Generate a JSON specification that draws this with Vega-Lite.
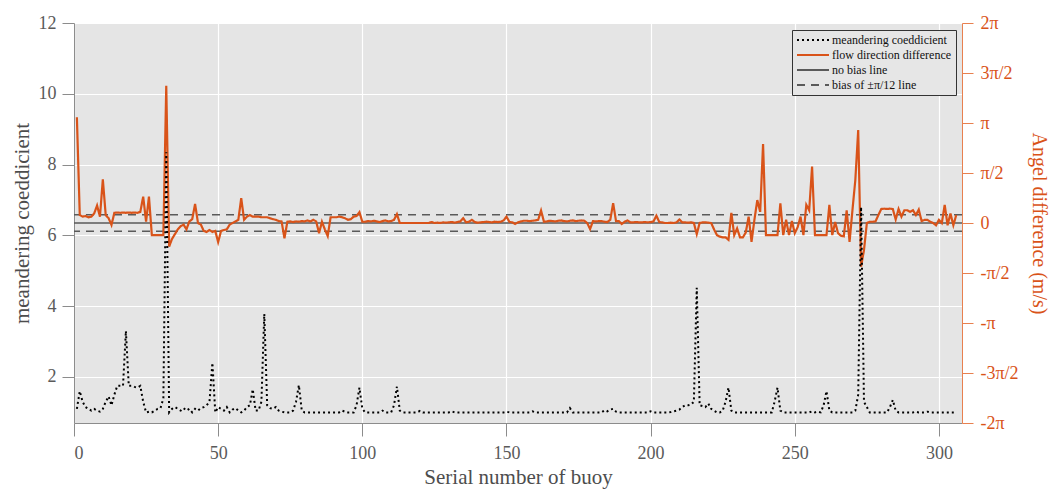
{
  "$schema": "https://vega.github.io/schema/vega-lite/v6.json",
  "width": 888,
  "height": 400,
  "autosize": {"type": "none"},
  "padding": {"left": 74, "top": 23, "right": 90, "bottom": 69},
  "background": "white",
  "config": {
    "view": {"fill": "#e5e5e5", "stroke": null},
    "font": "Liberation Serif, Times New Roman, serif",
    "axis": {"labelFont": "Liberation Serif, Times New Roman, serif", "titleFont": "Liberation Serif, Times New Roman, serif", "titleFontWeight": "normal"},
    "legend": {"orient": "none", "legendX": 718, "legendY": 7, "titleFontSize": 0,
      "fillColor": "#e6e6e6", "strokeColor": "#333333", "padding": 4,
      "labelFont": "Liberation Serif, Times New Roman, serif", "labelFontSize": 12, "labelColor": "#111111",
      "symbolType": "M-4,0H4", "symbolSize": 64, "symbolStrokeWidth": 2,
      "symbolOffset": 11, "labelOffset": 13, "rowPadding": 3}
  },
  "datasets": {
    "refs": [
      {"series": "no bias line", "angle": 0},
      {"series": "bias of ±π/12 line", "angle": 0.2618},
      {"series": "bias of ±π/12 line", "angle": -0.2618}
    ],
    "buoy": [
      {"i":1,"m":1.1,"a":3.32},{"i":2,"m":1.6,"a":0.25},{"i":3,"m":1.3,"a":0.2},{"i":4,"m":1.15,"a":0.22},{"i":5,"m":1.1,"a":0.18},
      {"i":6,"m":1.05,"a":0.2},{"i":7,"m":1.1,"a":0.3},{"i":8,"m":1.05,"a":0.55},{"i":9,"m":1.02,"a":0.2},{"i":10,"m":1.1,"a":1.37},
      {"i":11,"m":1.3,"a":0.25},{"i":12,"m":1.45,"a":0.15},{"i":13,"m":1.2,"a":-0.06},{"i":14,"m":1.5,"a":0.32},{"i":15,"m":1.75,"a":0.33},
      {"i":16,"m":1.75,"a":0.32},{"i":17,"m":1.75,"a":0.33},{"i":18,"m":3.3,"a":0.32},{"i":19,"m":1.75,"a":0.33},{"i":20,"m":1.75,"a":0.32},
      {"i":21,"m":1.72,"a":0.33},{"i":22,"m":1.7,"a":0.32},{"i":23,"m":1.75,"a":0.35},{"i":24,"m":1.3,"a":0.83},{"i":25,"m":1.0,"a":0.04},
      {"i":26,"m":1.02,"a":0.83},{"i":27,"m":1.0,"a":-0.38},{"i":28,"m":1.05,"a":-0.38},{"i":29,"m":1.1,"a":-0.38},{"i":30,"m":1.12,"a":-0.38},
      {"i":31,"m":1.4,"a":-0.38},{"i":32,"m":8.35,"a":4.31},{"i":33,"m":1.0,"a":-0.74},{"i":34,"m":1.1,"a":-0.5},{"i":35,"m":1.15,"a":-0.35},
      {"i":36,"m":1.1,"a":-0.2},{"i":37,"m":1.05,"a":-0.1},{"i":38,"m":1.12,"a":-0.05},{"i":39,"m":1.05,"a":-0.2},{"i":40,"m":1.1,"a":0.05},
      {"i":41,"m":1.0,"a":0.12},{"i":42,"m":1.1,"a":0.6},{"i":43,"m":1.05,"a":0.0},{"i":44,"m":1.12,"a":-0.05},{"i":45,"m":1.15,"a":-0.25},
      {"i":46,"m":1.2,"a":-0.28},{"i":47,"m":1.3,"a":-0.22},{"i":48,"m":2.4,"a":-0.28},{"i":49,"m":1.0,"a":-0.25},{"i":50,"m":1.15,"a":-0.6},
      {"i":51,"m":1.1,"a":-0.25},{"i":52,"m":1.05,"a":-0.22},{"i":53,"m":1.15,"a":-0.2},{"i":54,"m":1.0,"a":-0.05},{"i":55,"m":1.08,"a":0.0},
      {"i":56,"m":1.12,"a":0.05},{"i":57,"m":1.05,"a":0.1},{"i":58,"m":1.0,"a":0.78},{"i":59,"m":1.05,"a":0.1},{"i":60,"m":1.15,"a":0.2},
      {"i":61,"m":1.2,"a":0.25},{"i":62,"m":1.65,"a":0.2},{"i":63,"m":1.05,"a":0.2},{"i":64,"m":1.05,"a":0.2},{"i":65,"m":1.3,"a":0.18},
      {"i":66,"m":3.78,"a":0.18},{"i":67,"m":1.2,"a":0.18},{"i":68,"m":1.12,"a":0.15},{"i":69,"m":1.1,"a":0.12},{"i":70,"m":1.15,"a":0.1},
      {"i":71,"m":1.05,"a":0.06},{"i":72,"m":1.02,"a":0.05},{"i":73,"m":1.0,"a":-0.48},{"i":74,"m":1.0,"a":0.04},{"i":75,"m":1.0,"a":0.05},
      {"i":76,"m":1.05,"a":0.03},{"i":77,"m":1.3,"a":0.05},{"i":78,"m":1.77,"a":0.04},{"i":79,"m":1.05,"a":0.06},{"i":80,"m":1.0,"a":0.05},
      {"i":81,"m":1.0,"a":0.08},{"i":82,"m":1.0,"a":0.05},{"i":83,"m":1.0,"a":0.1},{"i":84,"m":1.0,"a":0.05},{"i":85,"m":1.0,"a":-0.32},
      {"i":86,"m":1.0,"a":0.04},{"i":87,"m":1.0,"a":-0.2},{"i":88,"m":1.0,"a":-0.41},{"i":89,"m":1.0,"a":0.18},{"i":90,"m":1.0,"a":0.18},
      {"i":91,"m":1.0,"a":0.18},{"i":92,"m":1.0,"a":0.2},{"i":93,"m":1.05,"a":0.18},{"i":94,"m":1.02,"a":0.15},{"i":95,"m":1.0,"a":0.1},
      {"i":96,"m":1.0,"a":0.12},{"i":97,"m":1.0,"a":0.2},{"i":98,"m":1.2,"a":0.22},{"i":99,"m":1.7,"a":0.34},{"i":100,"m":1.1,"a":0.04},
      {"i":101,"m":1.0,"a":0.04},{"i":102,"m":1.0,"a":0.06},{"i":103,"m":1.0,"a":0.05},{"i":104,"m":1.0,"a":0.07},{"i":105,"m":1.0,"a":0.05},
      {"i":106,"m":1.0,"a":0.03},{"i":107,"m":1.05,"a":0.06},{"i":108,"m":1.0,"a":0.08},{"i":109,"m":1.0,"a":0.05},{"i":110,"m":1.0,"a":0.06},
      {"i":111,"m":1.2,"a":0.1},{"i":112,"m":1.73,"a":0.28},{"i":113,"m":1.05,"a":0.0},{"i":114,"m":1.0,"a":0.0},{"i":115,"m":1.0,"a":0.0},
      {"i":116,"m":1.0,"a":0.0},{"i":117,"m":1.0,"a":0.0},{"i":118,"m":1.0,"a":0.0},{"i":119,"m":1.0,"a":0.0},{"i":120,"m":1.04,"a":0.0},
      {"i":121,"m":1.0,"a":0.0},{"i":122,"m":1.0,"a":0.0},{"i":123,"m":1.0,"a":0.0},{"i":124,"m":1.0,"a":0.03},{"i":125,"m":1.0,"a":0.0},
      {"i":126,"m":1.0,"a":0.01},{"i":127,"m":1.0,"a":0.0},{"i":128,"m":1.0,"a":0.02},{"i":129,"m":1.0,"a":0.01},{"i":130,"m":1.0,"a":0.02},
      {"i":131,"m":1.03,"a":0.03},{"i":132,"m":1.0,"a":0.01},{"i":133,"m":1.0,"a":0.03},{"i":134,"m":1.0,"a":0.05},{"i":135,"m":1.0,"a":0.15},
      {"i":136,"m":1.0,"a":0.02},{"i":137,"m":1.0,"a":0.04},{"i":138,"m":1.0,"a":0.1},{"i":139,"m":1.0,"a":0.03},{"i":140,"m":1.0,"a":0.01},
      {"i":141,"m":1.0,"a":0.02},{"i":142,"m":1.0,"a":0.03},{"i":143,"m":1.0,"a":0.04},{"i":144,"m":1.0,"a":0.03},{"i":145,"m":1.0,"a":0.02},
      {"i":146,"m":1.0,"a":0.04},{"i":147,"m":1.0,"a":0.03},{"i":148,"m":1.0,"a":0.04},{"i":149,"m":1.0,"a":0.08},{"i":150,"m":1.02,"a":0.2},
      {"i":151,"m":1.0,"a":0.04},{"i":152,"m":1.0,"a":0.02},{"i":153,"m":1.0,"a":-0.03},{"i":154,"m":1.0,"a":0.02},{"i":155,"m":1.0,"a":0.05},
      {"i":156,"m":1.0,"a":0.07},{"i":157,"m":1.0,"a":0.07},{"i":158,"m":1.0,"a":0.06},{"i":159,"m":1.03,"a":0.07},{"i":160,"m":1.0,"a":0.08},
      {"i":161,"m":1.0,"a":0.1},{"i":162,"m":1.0,"a":0.39},{"i":163,"m":1.0,"a":0.04},{"i":164,"m":1.0,"a":0.05},{"i":165,"m":1.0,"a":0.07},
      {"i":166,"m":1.0,"a":0.06},{"i":167,"m":1.0,"a":0.05},{"i":168,"m":1.0,"a":0.07},{"i":169,"m":1.0,"a":0.08},{"i":170,"m":1.0,"a":0.06},
      {"i":171,"m":1.0,"a":0.05},{"i":172,"m":1.12,"a":0.07},{"i":173,"m":1.0,"a":0.08},{"i":174,"m":1.0,"a":0.06},{"i":175,"m":1.0,"a":0.07},
      {"i":176,"m":1.0,"a":0.08},{"i":177,"m":1.0,"a":0.07},{"i":178,"m":1.0,"a":0.0},{"i":179,"m":1.0,"a":-0.19},{"i":180,"m":1.0,"a":0.06},
      {"i":181,"m":1.0,"a":0.05},{"i":182,"m":1.0,"a":0.06},{"i":183,"m":1.0,"a":0.06},{"i":184,"m":1.06,"a":0.04},{"i":185,"m":1.03,"a":0.03},
      {"i":186,"m":1.08,"a":0.1},{"i":187,"m":1.1,"a":0.62},{"i":188,"m":1.02,"a":0.06},{"i":189,"m":1.0,"a":0.06},{"i":190,"m":1.0,"a":-0.03},
      {"i":191,"m":1.0,"a":0.04},{"i":192,"m":1.0,"a":0.08},{"i":193,"m":1.0,"a":0.02},{"i":194,"m":1.0,"a":0.02},{"i":195,"m":1.0,"a":0.03},
      {"i":196,"m":1.0,"a":0.02},{"i":197,"m":1.0,"a":0.02},{"i":198,"m":1.0,"a":0.03},{"i":199,"m":1.0,"a":0.02},{"i":200,"m":1.03,"a":0.03},
      {"i":201,"m":1.0,"a":0.05},{"i":202,"m":1.0,"a":0.23},{"i":203,"m":1.0,"a":0.03},{"i":204,"m":1.0,"a":0.02},{"i":205,"m":1.0,"a":0.0},
      {"i":206,"m":1.0,"a":0.0},{"i":207,"m":1.01,"a":0.01},{"i":208,"m":1.03,"a":0.0},{"i":209,"m":1.05,"a":0.02},{"i":210,"m":1.08,"a":0.11},
      {"i":211,"m":1.15,"a":0.02},{"i":212,"m":1.2,"a":0.02},{"i":213,"m":1.2,"a":0.01},{"i":214,"m":1.22,"a":0.02},{"i":215,"m":1.3,"a":0.0},
      {"i":216,"m":4.52,"a":-0.35},{"i":217,"m":1.2,"a":0.0},{"i":218,"m":1.18,"a":0.02},{"i":219,"m":1.15,"a":0.02},{"i":220,"m":1.25,"a":0.01},
      {"i":221,"m":1.1,"a":0.0},{"i":222,"m":1.05,"a":-0.2},{"i":223,"m":1.0,"a":-0.38},{"i":224,"m":1.0,"a":-0.43},{"i":225,"m":1.05,"a":-0.45},
      {"i":226,"m":1.3,"a":-0.45},{"i":227,"m":1.7,"a":-0.53},{"i":228,"m":1.05,"a":0.32},{"i":229,"m":1.0,"a":-0.38},{"i":230,"m":1.0,"a":-0.17},
      {"i":231,"m":1.0,"a":-0.45},{"i":232,"m":1.0,"a":-0.45},{"i":233,"m":1.0,"a":-0.3},{"i":234,"m":1.0,"a":0.2},{"i":235,"m":1.0,"a":-0.59},
      {"i":236,"m":1.0,"a":0.1},{"i":237,"m":1.0,"a":0.72},{"i":238,"m":1.0,"a":0.35},{"i":239,"m":1.0,"a":2.48},{"i":240,"m":1.0,"a":-0.38},
      {"i":241,"m":1.0,"a":-0.38},{"i":242,"m":1.0,"a":-0.38},{"i":243,"m":1.3,"a":-0.38},{"i":244,"m":1.7,"a":-0.38},{"i":245,"m":1.05,"a":0.62},
      {"i":246,"m":1.0,"a":-0.38},{"i":247,"m":1.0,"a":0.1},{"i":248,"m":1.0,"a":-0.38},{"i":249,"m":1.0,"a":0.06},{"i":250,"m":1.0,"a":-0.32},
      {"i":251,"m":1.0,"a":-0.13},{"i":252,"m":1.0,"a":0.2},{"i":253,"m":1.0,"a":-0.38},{"i":254,"m":1.0,"a":0.57},{"i":255,"m":1.0,"a":0.4},
      {"i":256,"m":1.03,"a":1.77},{"i":257,"m":1.0,"a":-0.38},{"i":258,"m":1.02,"a":-0.38},{"i":259,"m":1.0,"a":-0.38},{"i":260,"m":1.2,"a":-0.38},
      {"i":261,"m":1.6,"a":-0.38},{"i":262,"m":1.05,"a":0.57},{"i":263,"m":1.0,"a":-0.38},{"i":264,"m":1.0,"a":0.03},{"i":265,"m":1.0,"a":-0.32},
      {"i":266,"m":1.0,"a":-0.4},{"i":267,"m":1.0,"a":-0.42},{"i":268,"m":1.0,"a":0.4},{"i":269,"m":1.0,"a":-0.59},{"i":270,"m":1.0,"a":0.4},
      {"i":271,"m":1.05,"a":1.35},{"i":272,"m":1.5,"a":2.92},{"i":273,"m":6.8,"a":-1.37},{"i":274,"m":1.3,"a":-0.85},{"i":275,"m":1.15,"a":0.0},
      {"i":276,"m":1.0,"a":0.04},{"i":277,"m":1.0,"a":0.04},{"i":278,"m":1.0,"a":0.05},{"i":279,"m":1.0,"a":0.25},{"i":280,"m":1.0,"a":0.44},
      {"i":281,"m":1.0,"a":0.45},{"i":282,"m":1.0,"a":0.44},{"i":283,"m":1.15,"a":0.45},{"i":284,"m":1.35,"a":0.44},{"i":285,"m":1.05,"a":0.11},
      {"i":286,"m":1.0,"a":0.44},{"i":287,"m":1.0,"a":0.2},{"i":288,"m":1.0,"a":0.4},{"i":289,"m":1.0,"a":0.4},{"i":290,"m":1.0,"a":0.35},
      {"i":291,"m":1.0,"a":0.4},{"i":292,"m":1.02,"a":0.25},{"i":293,"m":1.0,"a":0.42},{"i":294,"m":1.0,"a":0.06},{"i":295,"m":1.0,"a":0.1},
      {"i":296,"m":1.02,"a":0.1},{"i":297,"m":1.0,"a":0.04},{"i":298,"m":1.0,"a":0.0},{"i":299,"m":1.0,"a":-0.07},{"i":300,"m":1.0,"a":0.1},
      {"i":301,"m":1.0,"a":0.0},{"i":302,"m":1.0,"a":0.57},{"i":303,"m":1.0,"a":-0.07},{"i":304,"m":1.0,"a":0.3},{"i":305,"m":1.0,"a":-0.07},
      {"i":306,"m":1.0,"a":0.25}
    ]
  },
  "layer": [
    {
      "layer": [
        {
          "data": {"name": "refs"},
          "mark": {"type": "rule", "strokeWidth": 1.5},
          "encoding": {
            "y": {"field": "angle", "type": "quantitative",
              "scale": {"domain": [-6.283185307179586, 6.283185307179586], "nice": false, "zero": false},
              "axis": {"orient": "right",
                "values": [-6.283185307179586, -4.71238898038469, -3.141592653589793, -1.5707963267948966, 0, 1.5707963267948966, 3.141592653589793, 4.71238898038469, 6.283185307179586],
                "labelExpr": "['-2π','-3π/2','-π','-π/2','0','π/2','π','3π/2','2π'][round(datum.value/(PI/2))+4]",
                "labelColor": "#d95319", "labelFontSize": 18, "labelPadding": 7, "labelOverlap": false, "labelFlush": false,
                "tickColor": "#e8804f", "domainColor": "#e8804f", "tickSize": 11, "grid": false,
                "title": "Angel difference (m/s)", "titleColor": "#d95319", "titleFontSize": 20, "titlePadding": 10}},
            "color": {"field": "series", "type": "nominal", "legend": {"title": null}},
            "strokeDash": {"field": "series", "type": "nominal", "legend": {"title": null}}
          }
        },
        {
          "data": {"name": "buoy"},
          "mark": {"type": "line", "strokeWidth": 2.2},
          "encoding": {
            "x": {"field": "i", "type": "quantitative"},
            "y": {"field": "a", "type": "quantitative"},
            "color": {"datum": "flow direction difference", "type": "nominal"},
            "strokeDash": {"datum": "flow direction difference", "type": "nominal"}
          }
        }
      ]
    },
    {
      "data": {"name": "buoy"},
      "mark": {"type": "line", "strokeWidth": 2, "strokeCap": "butt"},
      "encoding": {
        "x": {"field": "i", "type": "quantitative",
          "scale": {"domain": [0, 308], "nice": false, "zero": false},
          "axis": {"values": [0, 50, 100, 150, 200, 250, 300], "grid": true, "gridColor": "white", "gridWidth": 1.2,
            "domainColor": "#8c8c8c", "tickColor": "#8c8c8c", "tickSize": 13,
            "labelColor": "#5a5a5a", "labelFontSize": 18, "labelPadding": 8,
            "title": "Serial number of buoy", "titleColor": "#4d4d4d", "titleFontSize": 21, "titlePadding": 4}},
        "y": {"field": "m", "type": "quantitative",
          "scale": {"domain": [0.7, 12], "nice": false, "zero": false},
          "axis": {"orient": "left", "values": [2, 4, 6, 8, 10, 12], "grid": true, "gridColor": "white", "gridWidth": 1.2,
            "domainColor": "#8c8c8c", "tickColor": "#8c8c8c", "tickSize": 12,
            "labelColor": "#5a5a5a", "labelFontSize": 18, "labelPadding": 6,
            "title": "meandering coeddicient", "titleColor": "#4d4d4d", "titleFontSize": 21, "titlePadding": 6}},
        "color": {"datum": "meandering coeddicient", "type": "nominal",
          "scale": {"domain": ["meandering coeddicient", "flow direction difference", "no bias line", "bias of ±π/12 line"],
                    "range": ["#000000", "#d95319", "#5a5a5a", "#5a5a5a"]},
          "legend": {"title": null}},
        "strokeDash": {"datum": "meandering coeddicient", "type": "nominal",
          "scale": {"domain": ["meandering coeddicient", "flow direction difference", "no bias line", "bias of ±π/12 line"],
                    "range": [[2, 3], [1, 0], [1, 0], [8, 6]]},
          "legend": {"title": null}}
      }
    }
  ],
  "resolve": {"scale": {"y": "independent"}}
}
